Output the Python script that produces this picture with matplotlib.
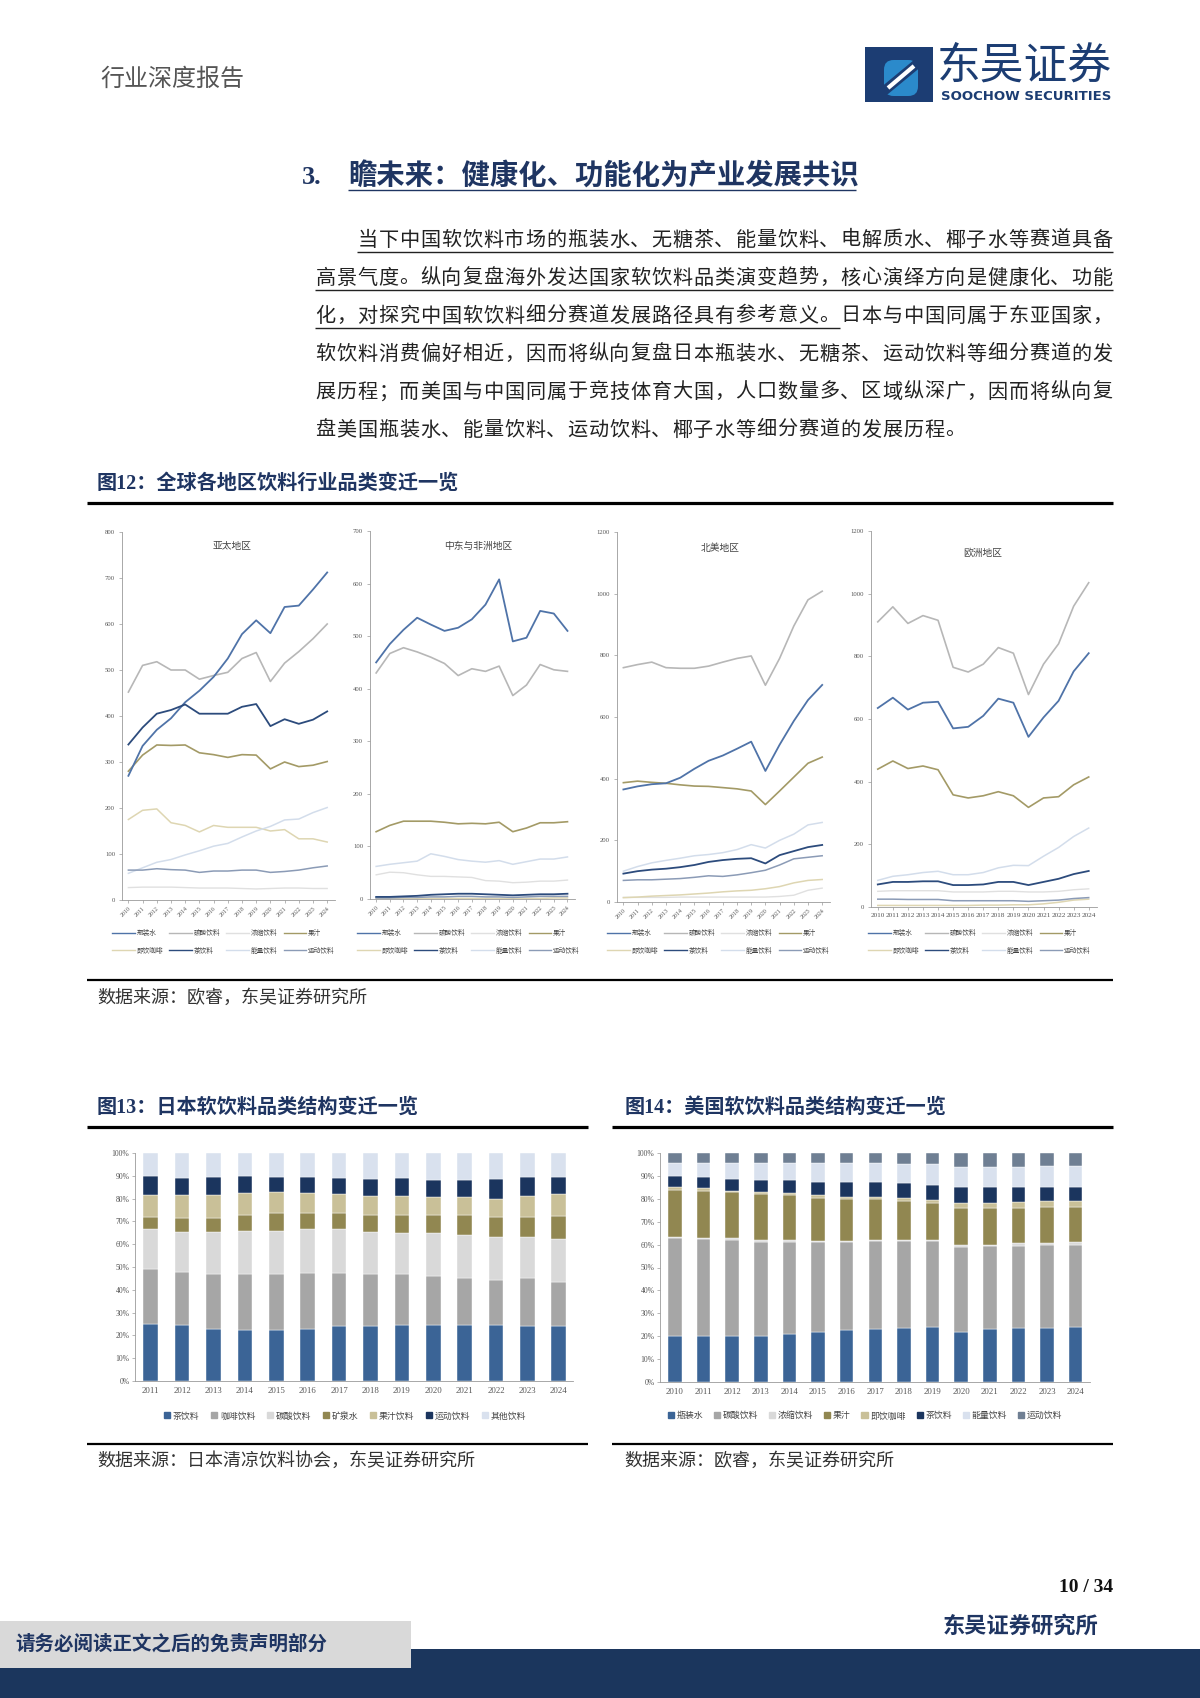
import matplotlib
matplotlib.use("Agg")
import matplotlib.pyplot as plt
from matplotlib.lines import Line2D
from matplotlib.patches import Rectangle, Patch, FancyBboxPatch
import numpy as np

plt.rcParams['font.family'] = ['Liberation Serif', 'Noto Sans CJK SC', 'DejaVu Sans']

# ---------------- DATA ----------------
line_years = [str(y) for y in range(2010, 2025)]
line_categories = ['瓶装水', '碳酸饮料', '浓缩饮料', '果汁', '即饮咖啡', '茶饮料', '能量饮料', '运动饮料']

apac_values = [
    [270, 335, 370, 395, 430, 455, 485, 525, 578, 608, 580, 637, 640, 675, 712],
    [452, 510, 518, 500, 500, 480, 488, 495, 525, 538, 475, 515, 540, 568, 600],
    [27, 28, 28, 28, 27, 26, 26, 26, 25, 24, 25, 26, 26, 25, 25],
    [280, 315, 337, 336, 337, 320, 316, 310, 316, 315, 285, 300, 290, 293, 301],
    [175, 195, 198, 168, 162, 148, 162, 158, 158, 158, 150, 153, 133, 133, 126],
    [338, 375, 405, 413, 425, 405, 405, 405, 420, 426, 378, 393, 383, 392, 410],
    [58, 70, 82, 88, 98, 107, 117, 123, 137, 150, 160, 174, 176, 190, 201],
    [65, 65, 68, 66, 65, 60, 63, 63, 65, 65, 60, 62, 65, 70, 74],
]
mea_values = [
    [450, 485, 512, 535, 522, 510, 516, 532, 560, 608, 490, 497, 548, 543, 510],
    [430, 467, 478, 470, 460, 448, 425, 438, 433, 443, 387, 407, 446, 436, 433],
    [46, 51, 50, 46, 43, 43, 42, 41, 35, 34, 31, 32, 34, 34, 36],
    [128, 140, 148, 148, 148, 146, 143, 144, 143, 146, 128, 135, 145, 145, 147],
    [1, 1, 1, 1, 1, 1, 1, 1, 1, 1, 1, 1, 1, 2, 2],
    [4, 4, 5, 6, 8, 9, 10, 10, 9, 8, 7, 8, 9, 9, 10],
    [62, 66, 69, 72, 86, 81, 75, 72, 70, 73, 66, 71, 76, 76, 80],
    [2, 2, 3, 3, 4, 4, 5, 5, 4, 4, 3, 4, 5, 5, 5],
]
na_values = [
    [365, 375, 382, 385, 403, 432, 458, 475, 497, 520, 425, 510, 587, 655, 704],
    [760, 770, 778, 760, 758, 758, 765, 778, 790, 798, 703, 790, 895, 980, 1008],
    [15, 15, 15, 15, 16, 16, 16, 16, 16, 16, 16, 18, 22, 38, 45],
    [387, 392, 388, 385, 380, 376, 375, 371, 367, 360, 316, 360, 405, 450, 470],
    [14, 16, 19, 21, 23, 26, 29, 33, 36, 38, 43, 50, 62, 70, 73],
    [92, 100, 105, 108, 113, 120, 130, 136, 140, 142, 125, 152, 165, 178, 185],
    [100, 115, 127, 135, 142, 150, 154, 160, 170, 186, 175, 200, 220, 250, 258],
    [70, 72, 72, 74, 76, 80, 85, 83, 88, 95, 103, 120, 140, 145, 150],
]
eu_values = [
    [635, 668, 630, 652, 655, 570, 575, 610, 665, 652, 543, 605, 658, 752, 810],
    [910, 958, 905, 930, 915, 765, 750, 775, 828, 810, 678, 775, 840, 960, 1035],
    [50, 52, 52, 52, 52, 48, 48, 48, 50, 50, 48, 48, 50, 55, 58],
    [440, 466, 442, 450, 438, 358, 348, 355, 368, 355, 318, 348, 352, 390, 415],
    [5, 5, 5, 5, 5, 5, 5, 6, 6, 7, 7, 10, 15, 22, 25],
    [72, 80, 80, 82, 82, 70, 70, 72, 80, 80, 70, 80, 90, 105, 115],
    [85, 98, 103, 110, 114, 103, 103, 110, 125, 133, 132, 162, 190, 225, 252],
    [25, 25, 24, 24, 24, 20, 20, 20, 20, 20, 18, 20, 22, 27, 30],
]
region_titles = ['亚太地区', '中东与非洲地区', '北美地区', '欧洲地区']
region_ymax = [800, 700, 1200, 1200]
region_ystep = [100, 100, 200, 200]

jp_years = [str(y) for y in range(2011, 2025)]
jp_categories = ['茶饮料', '咖啡饮料', '碳酸饮料', '矿泉水', '果汁饮料', '运动饮料', '其他饮料']
jp_tea =    [25, 24.5, 23, 22.5, 22.5, 23, 24, 24, 24.5, 24.5, 24.5, 24.5, 24, 24]
jp_coffee = [24, 23.5, 24, 24.5, 24.5, 24.5, 23.5, 23, 22.5, 21.5, 20.5, 20, 21, 19.5]
jp_carb =   [17.5, 17.5, 18.5, 19, 19, 19, 19, 18.5, 18, 19, 19, 18.5, 18, 19]
jp_water =  [5.5, 6, 6, 7, 7.5, 7, 7, 7.5, 8, 8, 9, 9, 9, 10]
jp_juice =  [9.5, 10, 10, 9.5, 9.5, 9, 8.5, 8, 8, 7.5, 7.5, 8, 9, 9.5]
jp_sports = [8.5, 7.5, 8, 7.5, 6.5, 7, 7, 7.5, 8, 7.5, 7.5, 8.5, 8.5, 7.5]
jp_other =  [10, 11, 10.5, 10, 10.5, 10.5, 11, 11.5, 11, 12, 12, 11.5, 10.5, 10.5]

us_years = [str(y) for y in range(2010, 2025)]
us_categories = ['瓶装水', '碳酸饮料', '浓缩饮料', '果汁', '即饮咖啡', '茶饮料', '能量饮料', '运动饮料']
us_water =  [20, 20, 20, 20, 21, 22, 22.5, 23, 23.5, 24, 22, 23, 23.5, 23.5, 24]
us_carb =   [43, 42.5, 42, 41, 40, 39, 38.5, 38.5, 38, 37.5, 37, 36.5, 36, 36.5, 36]
us_conc =   [0.5, 0.5, 0.8, 1, 1, 0.5, 0.5, 0.5, 0.5, 0.5, 1, 0.5, 1, 0.5, 1]
us_juice =  [20.5, 20.5, 20, 20, 19.5, 19, 18.5, 18, 17, 16, 16, 16, 15.5, 16, 15.5]
us_coffee = [1, 1, 0.7, 1, 1, 1, 1, 1, 1.5, 1.5, 2, 2, 2.5, 2.5, 2.5]
us_tea =    [5, 5, 5, 5, 5.5, 6, 6.5, 6.5, 6.5, 6.5, 7, 7, 6.5, 6, 6]
us_energy = [5.5, 6, 7, 7.5, 7.5, 8, 8, 8, 8, 9, 9, 9, 9, 9.5, 9.5]
us_sports = [4.5, 4.5, 4.5, 4.5, 4.5, 4.5, 4.5, 4.5, 5, 5, 6, 6, 6, 5.5, 5.5]

# ---------------- STYLE ----------------
line_colors = ['#4f73a8', '#b7b7b7', '#e0e0e0', '#a39a66', '#ded6b2', '#2c4b7c', '#d3ddeb', '#8b9bb6']
line_widths = [1.3, 1.2, 1.0, 1.2, 1.1, 1.3, 1.1, 1.1]
jp_colors = ['#3b6496', '#a6a6a6', '#d9d9d9', '#918751', '#c9c098', '#1b355e', '#d9e1ee']
us_colors = ['#3b6496', '#a6a6a6', '#d9d9d9', '#918751', '#c9c098', '#1b355e', '#d9e1ee', '#6f7f93']
navy = '#1f3562'
axis_gray = '#9a9a9a'
tick_gray = '#555555'

W, H = 1200, 1698
fig = plt.figure(figsize=(W / 100, H / 100), dpi=100)
fig.patch.set_facecolor('white')


def fx(x):
    return x / W


def fy(y):
    return 1 - y / H


def add_ax(x0, y0, x1, y1):
    return fig.add_axes([x0 / W, 1 - y1 / H, (x1 - x0) / W, (y1 - y0) / H])


def hline(x0, x1, y, color='black', lw=1.0):
    fig.add_artist(Line2D([fx(x0), fx(x1)], [fy(y), fy(y)], transform=fig.transFigure,
                          color=color, lw=lw, solid_capstyle='butt'))


def text(x, y, s, **kw):
    kw.setdefault('va', 'center')
    return fig.text(fx(x), fy(y), s, **kw)


# ---------------- HEADER ----------------
text(100, 80, '行业深度报告', fontsize=17.3, color='#555555', ha='left')

# logo icon
fig.add_artist(Rectangle((fx(865), fy(102)), fx(933) - fx(865), fy(47) - fy(102),
                         transform=fig.transFigure, facecolor='#1c3d73', edgecolor='none'))
fig.add_artist(FancyBboxPatch((fx(884), fy(96)), fx(918) - fx(884), fy(60) - fy(96),
                              boxstyle='round,pad=0.0,rounding_size=0.008',
                              transform=fig.transFigure, facecolor='#2b8acb', edgecolor='none',
                              mutation_aspect=W / H))
fig.add_artist(Line2D([fx(878), fx(924)], [fy(96), fy(58)], transform=fig.transFigure,
                      color='#1c3d73', lw=7, solid_capstyle='butt'))
fig.add_artist(Line2D([fx(888), fx(914)], [fy(88), fy(66)], transform=fig.transFigure,
                      color='white', lw=3, solid_capstyle='butt'))
text(937, 66, '东吴证券', fontsize=31.5, color='#1c3d73', ha='left',
     family=['Noto Sans CJK SC'], fontweight='medium')
text(941, 96, 'SOOCHOW SECURITIES', fontsize=9.5, color='#1c3d73', ha='left',
     family=['DejaVu Sans'], fontweight='bold')

# section heading
text(302, 177, '3.', fontsize=19, color=navy, ha='left', fontweight='bold')
text(348, 177, '瞻未来：健康化、功能化为产业发展共识', fontsize=20.4, color=navy, ha='left',
     fontweight='bold')
hline(348, 856, 190, color=navy, lw=1.0)

# paragraph (justified, char by char)
para_lines = [
    '当下中国软饮料市场的瓶装水、无糖茶、能量饮料、电解质水、椰子水等赛道具备',
    '高景气度。纵向复盘海外发达国家软饮料品类演变趋势，核心演绎方向是健康化、功能',
    '化，对探究中国软饮料细分赛道发展路径具有参考意义。日本与中国同属于东亚国家，',
    '软饮料消费偏好相近，因而将纵向复盘日本瓶装水、无糖茶、运动饮料等细分赛道的发',
    '展历程；而美国与中国同属于竞技体育大国，人口数量多、区域纵深广，因而将纵向复',
    '盘美国瓶装水、能量饮料、运动饮料、椰子水等细分赛道的发展历程。',
]
para_y = [240, 278, 316, 354, 392, 430]
left, right = 315, 1113
pitch = (right - left) / 38.0
for i, (ln, yy) in enumerate(zip(para_lines, para_y)):
    x0 = left + (2 * pitch if i == 0 else 0)
    for j, ch in enumerate(ln):
        text(x0 + j * pitch + pitch * 0.5, yy, ch, fontsize=14.5, color='#222222',
             ha='center', family=['Noto Sans CJK SC'])
hline(357, 1113, 252, color='#222222', lw=1.0)
hline(315, 1113, 290, color='#222222', lw=1.0)
hline(315, 315 + 25 * pitch, 328, color='#222222', lw=1.0)

# ---------------- FIGURE 12 ----------------
text(97, 484, '图12：全球各地区饮料行业品类变迁一览', fontsize=14.5, color=navy,
     ha='left', fontweight='bold')
hline(87, 1113, 503, color='black', lw=2.3)
hline(87, 1113, 980, color='black', lw=1.6)
text(97, 998, '数据来源：欧睿，东吴证券研究所', fontsize=13, color='#333333', ha='left')

panel_boxes = [(122, 532, 335, 900), (370, 531, 575, 899), (617, 532, 830, 902), (871, 531, 1097, 907)]
title_pos = [(232, 547), (478, 546), (720, 548), (983, 553)]
all_values = [apac_values, mea_values, na_values, eu_values]
legend_x = [112, 357, 607, 868]
for p, (box, values) in enumerate(zip(panel_boxes, all_values)):
    ax = add_ax(*box)
    xs = np.arange(len(line_years))
    for k in range(len(line_categories)):
        ax.plot(xs, values[k], color=line_colors[k], lw=line_widths[k], label=line_categories[k],
                zorder=3 + (k in (0, 5)))
    ax.set_xlim(-0.45, 14.55)
    ax.set_ylim(0, region_ymax[p])
    ax.set_yticks(np.arange(0, region_ymax[p] + 1, region_ystep[p]))
    ax.set_yticklabels([str(v) for v in np.arange(0, region_ymax[p] + 1, region_ystep[p])])
    ax.set_xticks(xs)
    if p < 3:
        ax.set_xticklabels(line_years, rotation=45, ha='right', rotation_mode='anchor', fontsize=4.3)
    else:
        ax.set_xticklabels(line_years, fontsize=5.2)
    for s in ['top', 'right']:
        ax.spines[s].set_visible(False)
    for s in ['left', 'bottom']:
        ax.spines[s].set_color(axis_gray)
        ax.spines[s].set_linewidth(0.6)
    ax.tick_params(axis='y', labelsize=4.8, colors=tick_gray, length=2, width=0.5, pad=3)
    ax.tick_params(axis='x', colors=tick_gray, length=2, width=0.5, pad=2)
    ax.tick_params(axis='y', color=axis_gray)
    ax.tick_params(axis='x', color=axis_gray)
    ax.patch.set_alpha(0)
    tx, ty = title_pos[p]
    ax.text((tx - box[0]) / (box[2] - box[0]), 1 - (ty - box[1]) / (box[3] - box[1]),
            region_titles[p], transform=ax.transAxes, ha='center', va='center',
            fontsize=7, color='#444444')
    handles = [Line2D([], [], color=line_colors[k], lw=1.0) for k in range(8)]
    order = [0, 4, 1, 5, 2, 6, 3, 7]
    leg = fig.legend([handles[i] for i in order], [line_categories[i] for i in order],
                     loc='upper left', bbox_to_anchor=(fx(legend_x[p]), fy(929)),
                     bbox_transform=fig.transFigure, ncol=4, fontsize=4.8, frameon=False,
                     handlelength=3.4, handletextpad=0.3, columnspacing=0.9, labelspacing=1.6,
                     borderpad=0, borderaxespad=0)
    for t in leg.get_texts():
        t.set_color('#444444')

# ---------------- FIGURE 13 (Japan) ----------------
text(97, 1108, '图13：日本软饮料品类结构变迁一览', fontsize=14.5, color=navy,
     ha='left', fontweight='bold')
hline(87, 588, 1127, color='black', lw=2.3)
hline(87, 588, 1444, color='black', lw=1.6)
text(97, 1461, '数据来源：日本清凉饮料协会，东吴证券研究所', fontsize=13, color='#333333', ha='left')

ax = add_ax(135, 1153, 573, 1381)
jp_series = [jp_tea, jp_coffee, jp_carb, jp_water, jp_juice, jp_sports, jp_other]
xs = np.arange(len(jp_years))
bottom = np.zeros(len(jp_years))
for k, ser in enumerate(jp_series):
    ax.bar(xs, ser, bottom=bottom, width=0.47, color=jp_colors[k], label=jp_categories[k],
           edgecolor='white', linewidth=0.3)
    bottom += np.array(ser)
ax.set_xlim(-0.5, 13.45)
ax.set_ylim(0, 100)
ax.set_yticks(np.arange(0, 101, 10))
ax.set_yticklabels([f'{v}%' for v in range(0, 101, 10)])
ax.set_xticks(xs)
ax.set_xticklabels(jp_years)
for s in ['top', 'right']:
    ax.spines[s].set_visible(False)
for s in ['left', 'bottom']:
    ax.spines[s].set_color(axis_gray)
    ax.spines[s].set_linewidth(0.6)
ax.tick_params(axis='y', labelsize=5.5, colors=tick_gray, length=2, width=0.5, pad=2)
ax.tick_params(axis='x', labelsize=6.3, colors=tick_gray, length=0, pad=4)
ax.tick_params(color=axis_gray)
leg = fig.legend([Patch(color=c) for c in jp_colors], jp_categories, loc='center',
                 bbox_to_anchor=(fx(345), fy(1416)), bbox_transform=fig.transFigure,
                 ncol=7, fontsize=6.4, frameon=False, handlelength=0.7, handleheight=0.7,
                 handletextpad=0.3, columnspacing=1.3, borderpad=0)
for t in leg.get_texts():
    t.set_color('#444444')

# ---------------- FIGURE 14 (US) ----------------
text(625, 1108, '图14：美国软饮料品类结构变迁一览', fontsize=14.5, color=navy,
     ha='left', fontweight='bold')
hline(612, 1113, 1127, color='black', lw=2.3)
hline(612, 1113, 1444, color='black', lw=1.6)
text(624, 1461, '数据来源：欧睿，东吴证券研究所', fontsize=13, color='#333333', ha='left')

ax = add_ax(660, 1153, 1090, 1382)
us_series = [us_water, us_carb, us_conc, us_juice, us_coffee, us_tea, us_energy, us_sports]
xs = np.arange(len(us_years))
bottom = np.zeros(len(us_years))
for k, ser in enumerate(us_series):
    ax.bar(xs, ser, bottom=bottom, width=0.47, color=us_colors[k], label=us_categories[k],
           edgecolor='white', linewidth=0.3)
    bottom += np.array(ser)
ax.set_xlim(-0.52, 14.5)
ax.set_ylim(0, 100)
ax.set_yticks(np.arange(0, 101, 10))
ax.set_yticklabels([f'{v}%' for v in range(0, 101, 10)])
ax.set_xticks(xs)
ax.set_xticklabels(us_years)
for s in ['top', 'right']:
    ax.spines[s].set_visible(False)
for s in ['left', 'bottom']:
    ax.spines[s].set_color(axis_gray)
    ax.spines[s].set_linewidth(0.6)
ax.tick_params(axis='y', labelsize=5.5, colors=tick_gray, length=2, width=0.5, pad=2)
ax.tick_params(axis='x', labelsize=6.3, colors=tick_gray, length=0, pad=4)
ax.tick_params(color=axis_gray)
leg = fig.legend([Patch(color=c) for c in us_colors], us_categories, loc='center',
                 bbox_to_anchor=(fx(865), fy(1416)), bbox_transform=fig.transFigure,
                 ncol=8, fontsize=6.4, frameon=False, handlelength=0.7, handleheight=0.7,
                 handletextpad=0.3, columnspacing=1.2, borderpad=0)
for t in leg.get_texts():
    t.set_color('#444444')

# ---------------- FOOTER ----------------
text(1113, 1587, '10 / 34', fontsize=14, color='#111111', ha='right', fontweight='bold')
text(1098, 1627, '东吴证券研究所', fontsize=16, color=navy, ha='right', fontweight='bold')
fig.add_artist(Rectangle((0, 0), 1, fy(1649), transform=fig.transFigure,
                         facecolor='#1b365d', edgecolor='none'))
fig.add_artist(Rectangle((0, fy(1668)), fx(411), fy(1621) - fy(1668), transform=fig.transFigure,
                         facecolor='#d9d9d9', edgecolor='none'))
text(15, 1644, '请务必阅读正文之后的免责声明部分', fontsize=14, color=navy, ha='left',
     fontweight='bold')

fig.savefig('out.png', dpi=100)
